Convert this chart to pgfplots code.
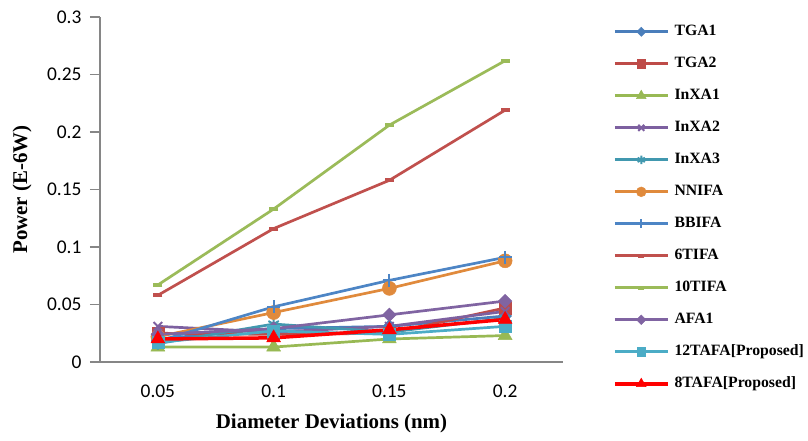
\documentclass[border=0pt]{standalone}
\usepackage{pgfplots}
\pgfplotsset{compat=1.18}
\usepackage{fontspec}
\setmainfont{Liberation Serif}
\newfontfamily\calibri{Carlito}
\definecolor{axgray}{HTML}{868686}
\definecolor{cA}{HTML}{4A7EBB}
\definecolor{cB}{HTML}{BE4B48}
\definecolor{cC}{HTML}{98B954}
\definecolor{cD}{HTML}{7D60A0}
\definecolor{cE}{HTML}{4198AF}
\definecolor{cF}{HTML}{E08A3C}
\definecolor{cG}{HTML}{4D85C5}
\definecolor{cH}{HTML}{C0504D}
\definecolor{cI}{HTML}{9BBB59}
\definecolor{cJ}{HTML}{8064A2}
\definecolor{cK}{HTML}{4BACC6}
\definecolor{cL}{HTML}{FF0000}
\begin{document}
\begin{tikzpicture}
\begin{axis}[
  scale only axis, width=463bp, height=345bp,
  xmin=-0.5, xmax=3.5, ymin=0, ymax=0.3,
  xtick={0,1,2,3}, xticklabels={0.05,0.1,0.15,0.2},
  ytick={0,0.05,0.1,0.15,0.2,0.25,0.3},
  yticklabels={0,0.05,0.1,0.15,0.2,0.25,0.3},
  axis x line*=bottom, axis y line*=left,
  x axis line style={draw=axgray, line width=1.3bp},
  y axis line style={draw=axgray, line width=1.3bp},
  xtick style={draw=none},
  ytick style={draw=axgray, line width=1.3bp},
  tick align=outside, major tick length=10bp,
  tick label style={font=\calibri\fontsize{19.5}{20}\selectfont},
  xticklabel style={yshift=-9bp},
  yticklabel style={xshift=-5bp},
  xlabel={Diameter Deviations (nm)},
  ylabel={Power (E-6W)},
  label style={font=\bfseries\fontsize{21}{24}\selectfont},
  xlabel style={at={(axis description cs:0.5,-0.178)}, anchor=center},
  ylabel style={at={(axis description cs:-0.1685,0.5)}, anchor=center},
  clip=false,
  every axis plot/.append style={line width=2.7bp, mark options={solid}},
  legend style={draw=none, fill=none, at={(axis description cs:1.108,0.978)}, anchor=north west,
    inner sep=0pt, outer sep=0pt, row sep=17.5bp, column sep=5bp,
    font=\bfseries\fontsize{15.8}{17}\selectfont,
    nodes={inner sep=0pt, text height=11bp, text depth=3.5bp}},
  legend cell align=left,
  legend image code/.code={\draw[mark repeat=2,mark phase=2] plot coordinates {(0bp,0bp) (26.5bp,0bp) (53bp,0bp)};},
  legend image post style={every mark/.append style={scale=0.7}},
]
\addplot[color=cA, mark=square*, mark size=4.6bp, mark options={rotate=45, fill=cA, draw=cA, line width=0.5bp}]
  coordinates {(0,0.020) (1,0.029) (2,0.031) (3,0.040)};
\addlegendentry{TGA1}
\addplot[color=cB, mark=square*, mark size=6bp, mark options={fill=cB, draw=cB, line width=0.5bp}]
  coordinates {(0,0.025) (1,0.024) (2,0.025) (3,0.047)};
\addlegendentry{TGA2}
\addplot[color=cC, mark=triangle*, mark size=8bp, mark options={fill=cC, draw=cC, line width=0.5bp}]
  coordinates {(0,0.013) (1,0.013) (2,0.020) (3,0.023)};
\addlegendentry{InXA1}
\addplot[color=cD, mark=x, mark size=6bp, mark options={draw=cD, line width=2bp}]
  coordinates {(0,0.031) (1,0.026) (2,0.031) (3,0.044)};
\addlegendentry{InXA2}
\addplot[color=cE, mark=asterisk, mark size=6bp, mark options={draw=cE, line width=2bp}]
  coordinates {(0,0.016) (1,0.033) (2,0.026) (3,0.038)};
\addlegendentry{InXA3}
\addplot[color=cF, mark=*, mark size=7bp, mark options={fill=cF, draw=cF, line width=0.5bp}]
  coordinates {(0,0.022) (1,0.043) (2,0.064) (3,0.088)};
\addlegendentry{NNIFA}
\addplot[color=cG, mark=+, mark size=6.5bp, mark options={draw=cG, line width=2bp}]
  coordinates {(0,0.018) (1,0.048) (2,0.071) (3,0.091)};
\addlegendentry{BBIFA}
\addplot[color=cH, mark=-, mark size=4.5bp, mark options={draw=cH, line width=4bp}]
  coordinates {(0,0.058) (1,0.116) (2,0.158) (3,0.219)};
\addlegendentry{6TIFA}
\addplot[color=cI, mark=-, mark size=4.5bp, mark options={draw=cI, line width=4bp}]
  coordinates {(0,0.067) (1,0.133) (2,0.206) (3,0.262)};
\addlegendentry{10TIFA}
\addplot[color=cJ, mark=square*, mark size=4.8bp, mark options={rotate=45, fill=cJ, draw=cJ, line width=0.5bp}]
  coordinates {(0,0.024) (1,0.029) (2,0.041) (3,0.053)};
\addlegendentry{AFA1}
\addplot[color=cK, mark=square*, mark size=6bp, mark options={fill=cK, draw=cK, line width=0.5bp}]
  coordinates {(0,0.017) (1,0.027) (2,0.024) (3,0.031)};
\addlegendentry{12TAFA[Proposed]}
\addplot[color=cL, line width=3.5bp, mark=triangle*, mark size=8bp, mark options={fill=cL, draw=cL, line width=0.5bp}]
  coordinates {(0,0.020) (1,0.021) (2,0.028) (3,0.037)};
\addlegendentry{8TAFA[Proposed]}
\end{axis}
\path (current axis.south west) ++(-100bp,-79bp) rectangle ++(808bp,441bp);
\end{tikzpicture}
\end{document}
